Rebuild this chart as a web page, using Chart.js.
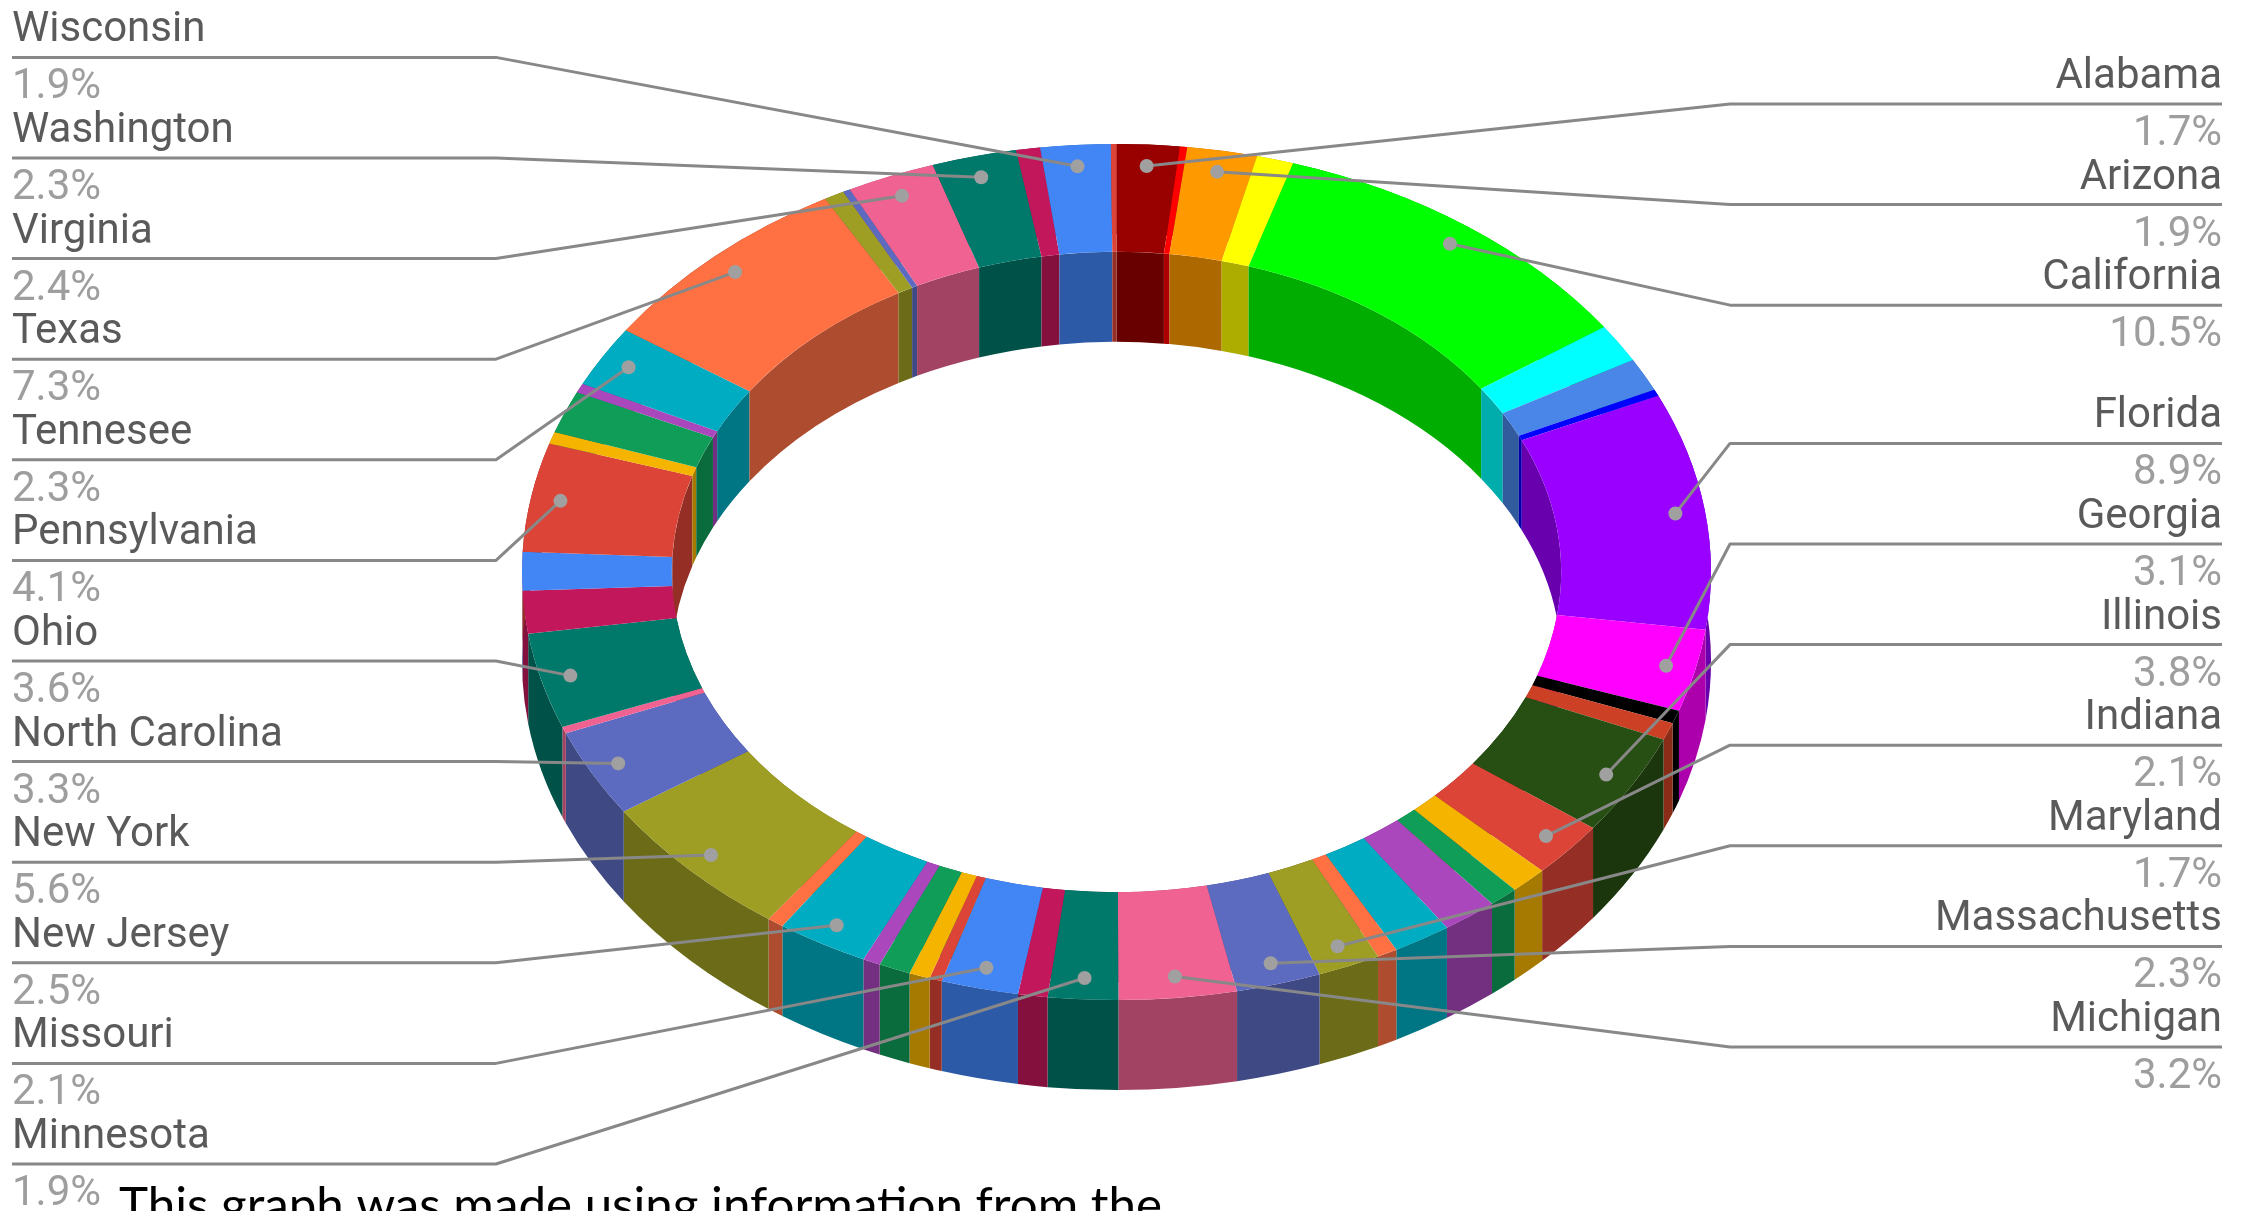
<!DOCTYPE html>
<html>
<head>
<meta charset="utf-8">
<title>Share by state</title>
<script src="https://cdn.jsdelivr.net/npm/chart.js@4.4.1/dist/chart.umd.min.js"></script>
<style>
  html, body { margin: 0; padding: 0; background: #ffffff; overflow: hidden; }
  canvas { display: block; }
</style>
</head>
<body>
<canvas id="ring" width="2252" height="1211"></canvas>
<script>
// Slices, in alphabetical order, clockwise from twelve o'clock.
const states = [
  'Alabama', 'Alaska', 'Arizona', 'Arkansas', 'California', 'Colorado', 'Connecticut',
  'Delaware', 'Florida', 'Georgia', 'Hawaii', 'Idaho', 'Illinois', 'Indiana', 'Iowa',
  'Kansas', 'Kentucky', 'Louisiana', 'Maine', 'Maryland', 'Massachusetts', 'Michigan',
  'Minnesota', 'Mississippi', 'Missouri', 'Montana', 'Nebraska', 'Nevada',
  'New Hampshire', 'New Jersey', 'New Mexico', 'New York', 'North Carolina',
  'North Dakota', 'Ohio', 'Oklahoma', 'Oregon', 'Pennsylvania', 'Rhode Island',
  'South Carolina', 'South Dakota', 'Tennesee', 'Texas', 'Utah', 'Vermont', 'Virginia',
  'Washington', 'West Virginia', 'Wisconsin', 'Wyoming'
];

// Share of the total, in percent.
const shares = [
  1.7, 0.2, 1.9, 1.0, 10.5, 1.45, 1.25,
  0.25, 8.9, 3.1, 0.5, 0.65, 3.8, 2.1, 1.02,
  0.8, 1.5, 1.58, 0.55, 1.7, 2.3, 3.2,
  1.9, 0.8, 2.1, 0.34, 0.57, 0.86,
  0.48, 2.5, 0.45, 5.6, 3.3,
  0.25, 3.6, 1.6, 1.45, 4.1, 0.45,
  1.6, 0.35, 2.3, 7.3, 0.55, 0.2, 2.4,
  2.3, 0.65, 1.9, 0.15
];

// Default slice colours, cycled.
const sheetPalette = [
  '#4285f4', '#db4437', '#f4b400', '#0f9d58', '#ab47bc', '#00acc1',
  '#ff7043', '#9e9d24', '#5c6bc0', '#f06292', '#00796b', '#c2185b'
];

// Hand-picked colours for the first slices.
const pickedColours = [
  '#990000', '#ff0000', '#ff9900', '#ffff00', '#00ff00', '#00ffff', '#4a86e8',
  '#0000ff', '#9900ff', '#ff00ff', '#000000', '#cc4125', '#274e13'
];

const footnote = 'This graph was made using information from the';

const colours = states.map((s, i) =>
  i < pickedColours.length ? pickedColours[i] : sheetPalette[i % sheetPalette.length]);
const total = shares.reduce((a, b) => a + b, 0);

// Ring drawn as a tilted, extruded doughnut.
const TILT = 0.72;        // vertical squash of the ring
const DEPTH = 90;         // wall height on screen
const RING_CY = 572;      // screen y of the ring centre
const ANCHOR_R = 0.95;    // leader dots sit at this fraction of the outer radius
const LABEL_MIN = 1.65;   // smallest share that gets a callout
const STEP = 100.6;       // vertical spacing of callouts
const LIFT = 62;          // callout rule sits this far above its dot
const LINE_COLOUR = '#888888';
const NAME_COLOUR = '#5a5a5a';
const PCT_COLOUR = '#9e9e9e';
const LABEL_FONT = '42px Roboto';

function shade(hex, f) {
  const n = parseInt(hex.slice(1), 16);
  const r = Math.round(((n >> 16) & 255) * f);
  const g = Math.round(((n >> 8) & 255) * f);
  const b = Math.round((n & 255) * f);
  return `rgb(${r},${g},${b})`;
}
const wallColours = colours.map(c => shade(c, 0.68));

function applyTilt(ctx, cyFlat) {
  ctx.translate(0, RING_CY);
  ctx.scale(1, TILT);
  ctx.translate(0, -cyFlat);
}

function wallPath(ctx, arc, r) {
  ctx.beginPath();
  ctx.arc(arc.x, arc.y, r, arc.startAngle, arc.endAngle);
  ctx.arc(arc.x, arc.y + DEPTH / TILT, r, arc.endAngle, arc.startAngle, true);
  ctx.closePath();
}

const ringPlugin = {
  id: 'tiltedRing',
  beforeDatasetsDraw(chart) {
    const ctx = chart.ctx;
    const arcs = chart.getDatasetMeta(0).data;
    ctx.save();
    applyTilt(ctx, arcs[0].y);
    // inner walls (seen through the hole), then outer walls
    arcs.forEach((a, i) => {
      ctx.fillStyle = wallColours[i];
      wallPath(ctx, a, a.innerRadius);
      ctx.fill();
    });
    arcs.forEach((a, i) => {
      ctx.fillStyle = wallColours[i];
      wallPath(ctx, a, a.outerRadius);
      ctx.fill();
    });
  },
  afterDatasetsDraw(chart) {
    const ctx = chart.ctx;
    ctx.restore();
    const arcs = chart.getDatasetMeta(0).data;

    const left = [], right = [];
    arcs.forEach((a, i) => {
      const pct = shares[i] / total * 100;
      if (pct < LABEL_MIN) return;
      const mid = (a.startAngle + a.endAngle) / 2;
      const r = a.outerRadius * ANCHOR_R;
      const item = {
        name: states[i],
        pct: pct.toFixed(1) + '%',
        x: a.x + r * Math.cos(mid),
        y: RING_CY + r * Math.sin(mid) * TILT
      };
      (Math.cos(mid) < 0 ? left : right).push(item);
    });

    function stack(list, top, bottom) {
      list.sort((p, q) => p.y - q.y);
      let prev = -Infinity;
      list.forEach(it => { it.ly = Math.max(it.y - LIFT, top, prev + STEP); prev = it.ly; });
      let next = Infinity;
      for (let k = list.length - 1; k >= 0; k--) {
        const it = list[k];
        it.ly = Math.min(it.ly, bottom, next - STEP);
        next = it.ly;
      }
    }
    stack(left, 57, 1164);
    stack(right, 57, 1047);

    ctx.save();
    ctx.strokeStyle = LINE_COLOUR;
    ctx.lineWidth = 3;
    ctx.lineJoin = 'round';
    left.forEach(it => {
      ctx.beginPath();
      ctx.moveTo(12, it.ly);
      ctx.lineTo(496, it.ly);
      ctx.lineTo(it.x, it.y);
      ctx.stroke();
    });
    right.forEach(it => {
      ctx.beginPath();
      ctx.moveTo(2222, it.ly);
      ctx.lineTo(1730, it.ly);
      ctx.lineTo(it.x, it.y);
      ctx.stroke();
    });
    ctx.fillStyle = '#a0a0a0';
    left.concat(right).forEach(it => {
      ctx.beginPath();
      ctx.arc(it.x, it.y, 7, 0, Math.PI * 2);
      ctx.fill();
    });

    ctx.font = LABEL_FONT;
    ctx.textBaseline = 'alphabetic';
    ctx.textAlign = 'left';
    left.forEach(it => {
      ctx.fillStyle = NAME_COLOUR;
      ctx.fillText(it.name, 12, it.ly - 16);
      ctx.fillStyle = PCT_COLOUR;
      ctx.fillText(it.pct, 12, it.ly + 41);
    });
    ctx.textAlign = 'right';
    right.forEach(it => {
      ctx.fillStyle = NAME_COLOUR;
      ctx.fillText(it.name, 2222, it.ly - 16);
      ctx.fillStyle = PCT_COLOUR;
      ctx.fillText(it.pct, 2222, it.ly + 41);
    });

    // footnote under the chart
    ctx.textAlign = 'left';
    ctx.font = '100px Lato';
    const w100 = ctx.measureText(footnote).width;
    const size = 100 * 1044 / w100;
    ctx.font = `${size.toFixed(1)}px Lato`;
    ctx.fillStyle = '#000000';
    ctx.fillText(footnote, 119, 1186 + size * 0.72);
    ctx.restore();
  }
};

new Chart(document.getElementById('ring'), {
  type: 'doughnut',
  data: {
    labels: states,
    datasets: [{
      data: shares,
      backgroundColor: colours,
      borderWidth: 0,
      hoverOffset: 0
    }]
  },
  options: {
    responsive: false,
    animation: false,
    cutout: '74.8%',
    layout: { padding: { left: 522, right: 541, top: 0, bottom: 0 } },
    plugins: {
      legend: { display: false },
      tooltip: { enabled: false }
    },
    events: []
  },
  plugins: [ringPlugin]
});
</script>
</body>
</html>
